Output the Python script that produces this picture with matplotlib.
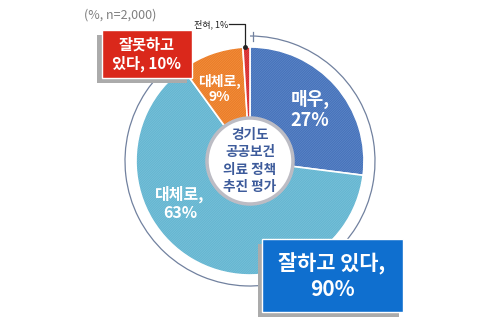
import numpy as np
import matplotlib
matplotlib.use('Agg')
import matplotlib.pyplot as plt
from matplotlib.patches import Circle, Rectangle, Arc, Wedge

plt.rcParams['font.family'] = ['Noto Sans CJK KR', 'DejaVu Sans']
plt.rcParams['hatch.linewidth'] = 0.5

# 데이터
categories = ['매우', '대체로', '대체로', '전혀']
values = [27, 63, 9, 1]
colors = ['#4371bb', '#62b5d1', '#ec7b22', '#d8282a']
good_total = 90
bad_total = 10

W, H = 500, 320
def py(y):
    # 픽셀 y(위에서부터) -> 데이터 y
    return H - y

fig = plt.figure(figsize=(5, 3.2), dpi=100)
ax = fig.add_axes([0, 0, 1, 1])

cx, cy = 250, py(161)
r_out = 114
r_in = 43

# 바깥 얇은 링 (잘하고 있다 구간, 위에서 시계방향)
ring_r = 125
ax.add_patch(Arc((cx, cy), 2 * ring_r, 2 * ring_r, theta1=90 - good_total / 100 * 360 + 360,
                 theta2=90, color='#71819f', lw=0.9))
ax.plot([cx + 3, cx + 3], [cy + ring_r - 5, cy + ring_r + 4], color='#71819f', lw=0.9)

# 도넛
wedges, _ = ax.pie(values, radius=r_out, center=(cx, cy), startangle=90, counterclock=False,
                   colors=colors, wedgeprops=dict(width=r_out - r_in, edgecolor='white', linewidth=1.2))
# 빗금 질감
for w in wedges:
    ax.add_patch(Wedge(w.center, w.r, w.theta1, w.theta2, width=w.width,
                       facecolor='none', edgecolor=(1, 1, 1, 0.16),
                       hatch='/' * 14, linewidth=0))
ax.set_xlim(0, W)
ax.set_ylim(0, H)
ax.set_aspect('auto')
ax.axis('off')

# 가운데 원
ax.add_patch(Circle((cx, cy), r_in, facecolor='white', edgecolor='#bcbcc4', lw=2.5, zorder=5))
ax.text(cx, cy, '경기도\n공공보건\n의료 정책\n추진 평가', ha='center', va='center', fontsize=9.8,
        fontweight='bold', color='#3d5b9b', linespacing=1.3, zorder=6)

# 조각 라벨
ax.text(310, py(110), f'{categories[0]},\n{values[0]}%', ha='center', va='center', fontsize=13,
        fontweight='bold', color='white', linespacing=1.1)
ax.text(180, py(203), f'{categories[1]},\n{values[1]}%', ha='center', va='center', fontsize=11.5,
        fontweight='bold', color='white', linespacing=1.15)
ax.text(219, py(89), f'{categories[2]},\n{values[2]}%', ha='center', va='center', fontsize=10,
        fontweight='bold', color='white', linespacing=1.1)

# 전혀 1% 지시선
ax.text(228, py(24), f'{categories[3]}, {values[3]}%', ha='right', va='center', fontsize=6.5, color='#222222')
ax.plot([229, 245, 245], [py(24), py(24), py(47)], color='#222222', lw=0.9, zorder=7)
ax.plot([245], [py(47)], 'o', color='#222222', ms=2.5, zorder=7)

# 잘못하고 있다 박스
ax.add_patch(Rectangle((97, py(83)), 90, 48, facecolor='#ababab', edgecolor='none', zorder=8))
ax.add_patch(Rectangle((102, py(78)), 90, 48, facecolor='#da281b', edgecolor='white', lw=1, zorder=9))
ax.text(147, py(54), f'잘못하고\n있다, {bad_total}%', ha='center', va='center', fontsize=11,
        fontweight='bold', color='white', linespacing=1.2, zorder=10)

# 잘하고 있다 박스
ax.add_patch(Rectangle((258, py(317)), 141, 73, facecolor='#ababab', edgecolor='none', zorder=8))
ax.add_patch(Rectangle((262, py(312)), 141, 73, facecolor='#0f6fcf', edgecolor='white', lw=1, zorder=9))
ax.text(332, py(276), f'잘하고 있다,\n{good_total}%', ha='center', va='center', fontsize=15,
        fontweight='bold', color='white', linespacing=1.25, zorder=10)

# 표본
ax.text(120, py(15), '(%, n=2,000)', ha='center', va='center', fontsize=9, color='#808080')

fig.savefig('out.png', dpi=100)
